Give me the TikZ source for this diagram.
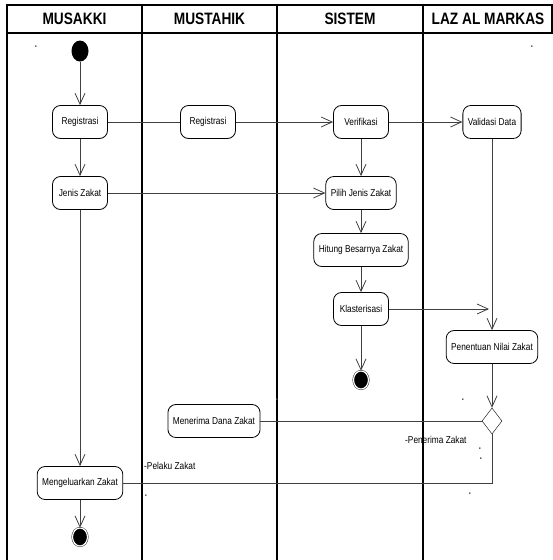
\documentclass[tikz,border=0pt]{standalone}
\usepackage{fontspec}
\setmainfont{Liberation Sans}[FakeStretch=0.83]
\usetikzlibrary{positioning, arrows.meta, shapes.geometric}

\begin{document}
\begin{tikzpicture}[x=1pt, y=-1pt,
  font=\fontsize{10}{12}\selectfont, >={Straight Barb[length=11pt, width=10pt]},
  act/.style={draw, rounded corners=8pt, minimum height=33pt, minimum width=55pt, inner xsep=5pt, line width=0.8pt},
  flow/.style={draw=black!75, line width=0.8pt},
  lane/.style={line width=1.1pt},
  hdr/.style={font=\fontsize{16.5}{18}\selectfont\bfseries},
  startpt/.style={ellipse, fill=black, minimum width=17pt, minimum height=21pt, inner sep=0pt},
  endpt/.style={ellipse, draw, double, double distance=1.2pt, fill=black, minimum width=15pt, minimum height=18pt, inner sep=0pt},
  choice/.style={diamond, draw, minimum width=20pt, minimum height=26pt, inner sep=0pt},
  mult/.style={inner sep=0pt, text=black!70, font=\fontsize{11}{11}\selectfont\bfseries}]
\useasboundingbox (0,0) rectangle (553,560);
% swimlanes
\draw[lane] (7,5) rectangle (552,33);
\foreach \lx in {7,142,277,423} \draw[lane] (\lx,5) -- (\lx,560);
\node[hdr] (hmusakki) at (74.5,19) {MUSAKKI};
\node[hdr] (hmustahik) at (209.5,19) {MUSTAHIK};
\node[hdr] (hsistem) at (350,19) {SISTEM};
\node[hdr] (hlaz) at (488,19) {LAZ AL MARKAS};
% activities
\node[startpt] (start) at (80,51) {};
\node[act] (reg1) at (80,122) {Registrasi};
\node[act] (reg2) at (208,122) {Registrasi};
\node[act] (verif) at (361,122) {Verifikasi};
\node[act] (valid) at (492,122) {Validasi Data};
\node[act] (jenis) at (80,193) {Jenis Zakat};
\node[act] (pilih) at (361,193) {Pilih Jenis Zakat};
\node[act] (hitung) at (361,250) {Hitung Besarnya Zakat};
\node[act] (klas) at (361,309) {Klasterisasi};
\node[endpt] (endsis) at (361,380) {};
\node[act] (nilai) at (492,347) {Penentuan Nilai Zakat};
\node[choice] (cek) at (492,421) {};
\node[act] (terima) at (214,421) {Menerima Dana Zakat};
\node[act] (keluar) at (80,483) {Mengeluarkan Zakat};
\node[endpt] (endmus) at (80,537) {};
\coordinate (merge) at (489,309);
% labels
\node[anchor=west, inner sep=0pt] (pelaku) at (144,466) {-Pelaku Zakat};
\node[anchor=west, inner sep=0pt] (penerima) at (405,440) {-Penerima Zakat};
\foreach \mx/\my [count=\i] in {36/47, 532/47, 277/400, 463/400, 480/449, 481/459, 470/494, 146/496}
  \node[mult] (m\i) at (\mx,\my) {.};
% flows
\draw[flow, ->] (start) -- (reg1);
\draw[flow] (reg1) -- (reg2);
\draw[flow, ->] (reg2) -- (verif);
\draw[flow, ->] (verif) -- (valid);
\draw[flow, ->] (reg1) -- (jenis);
\draw[flow, ->] (jenis) -- (pilih);
\draw[flow, ->] (verif) -- (pilih);
\draw[flow, ->] (pilih) -- (hitung);
\draw[flow, ->] (hitung) -- (klas);
\draw[flow, ->] (klas) -- (endsis);
\draw[flow, ->] (klas.east) -- (merge);
\draw[flow, ->] (valid) -- (nilai);
\draw[flow, ->] (nilai) -- (cek);
\draw[flow] (cek.west) -- (terima.east);
\draw[flow] (cek.south) |- (keluar.east);
\draw[flow, ->] (jenis) -- (keluar);
\draw[flow, ->] (keluar) -- (endmus);
\end{tikzpicture}
\end{document}
